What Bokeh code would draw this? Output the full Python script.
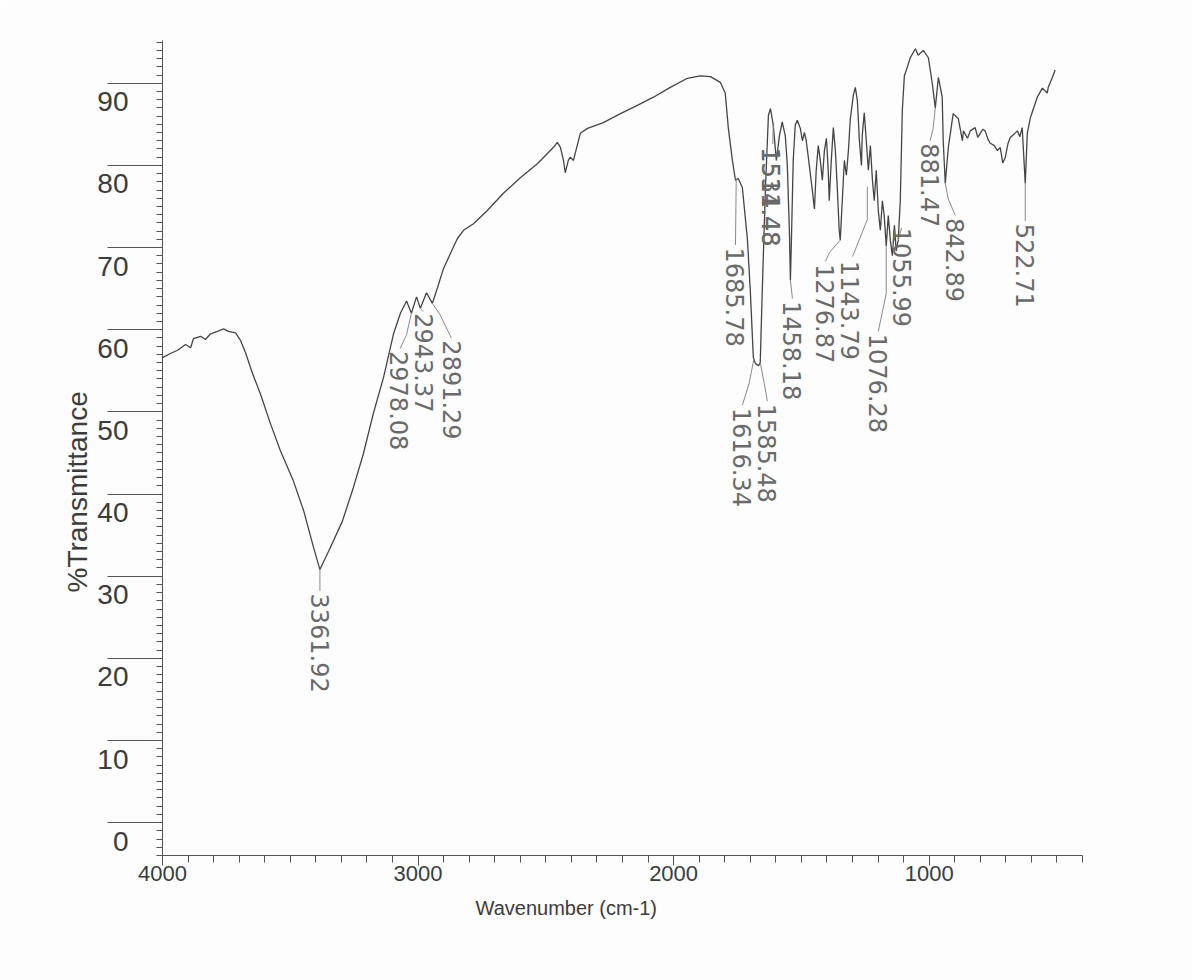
from bokeh.plotting import figure
from bokeh.models import ColumnDataSource, FixedTicker, Title
from bokeh.core.properties import value
from bokeh.embed import file_html
from bokeh.resources import INLINE
import math

# ---- spectrum (wavenumber cm-1, %T) ----
wavenumber = [
    4000, 3969, 3941, 3910, 3890, 3879, 3851, 3832, 3812, 3785, 3761, 3742, 3714, 3695,
    3675, 3648, 3617, 3578, 3539, 3488, 3448, 3409, 3384, 3343, 3296, 3253, 3214, 3175,
    3135, 3096, 3069, 3045, 3026, 3006, 2991, 2967, 2944, 2924, 2901, 2873, 2846, 2822,
    2783, 2729, 2666, 2600, 2533, 2470, 2455, 2443, 2431, 2424, 2412, 2404, 2392, 2365,
    2337, 2275, 2208, 2142, 2079, 2013, 1946, 1896, 1856, 1817, 1798, 1786, 1770, 1758,
    1747, 1731, 1711, 1700, 1688, 1680, 1668, 1661, 1653, 1641, 1629, 1621,
    1610, 1598, 1586, 1575, 1563, 1555, 1547, 1543, 1539, 1532, 1524, 1516, 1504, 1496,
    1488, 1481, 1469, 1457, 1449, 1442, 1434, 1426, 1418, 1410, 1402, 1395, 1391, 1383,
    1375, 1367, 1359, 1352, 1348, 1340, 1332, 1324, 1316, 1309, 1297, 1289, 1281, 1273,
    1265, 1262, 1254, 1246, 1238, 1230, 1222, 1215, 1207, 1199, 1191, 1183, 1176, 1168,
    1160, 1152, 1144, 1136, 1129, 1121, 1113, 1105, 1097, 1086, 1074, 1054, 1043, 1023,
    1003, 988, 976, 964, 949, 945, 937, 925, 906, 886, 870, 866, 850, 839, 820, 810,
    800, 790, 781, 770, 761, 745, 733, 722, 712, 702, 692, 683, 668, 655, 645, 636,
    624, 616, 604, 577, 557, 538, 534, 518, 507,
]
transmittance = [
    56.6, 57.1, 57.5, 58.2, 57.8, 58.9, 59.2, 58.8, 59.5, 59.8, 60.1, 59.8, 59.6, 58.7,
    57.2, 54.7, 52.2, 48.6, 45.3, 41.6, 38.0, 33.5, 30.8, 33.5, 36.7, 40.8, 44.9, 49.8,
    54.2, 59.5, 62.0, 63.5, 62.0, 64.0, 62.6, 64.5, 63.2, 65.1, 67.4, 69.3, 71.1, 72.1,
    72.9, 74.5, 76.6, 78.5, 80.2, 82.2, 82.8, 82.2, 80.6, 79.1, 80.6, 81.0, 80.6, 83.9,
    84.5, 85.2, 86.3, 87.3, 88.3, 89.5, 90.6, 90.9, 90.8, 90.1, 88.8, 84.6, 80.6, 78.2,
    78.4, 77.3, 70.9, 64.8, 56.6, 55.9, 55.6, 56.0, 64.8, 76.9, 86.1, 86.9,
    84.9, 80.6, 83.6, 85.3, 83.6, 80.0, 72.1, 66.0, 70.9, 80.6, 84.9, 85.5, 84.5, 83.0,
    84.0, 83.0, 80.0, 76.9, 74.7, 79.4, 82.4, 80.6, 78.2, 81.8, 83.3, 79.4, 75.7, 80.6,
    84.6, 81.8, 76.9, 72.1, 70.9, 75.7, 80.6, 78.8, 81.8, 85.5, 88.5, 89.5, 87.9, 83.0,
    80.0, 83.6, 86.4, 83.0, 79.4, 82.4, 78.2, 75.7, 79.4, 74.5, 72.1, 75.7, 73.9, 70.2,
    73.9, 70.9, 69.0, 72.7, 69.6, 70.9, 75.7, 86.7, 90.9, 91.9, 93.1, 94.2, 93.4, 94.0,
    93.1, 90.0, 87.0, 90.7, 88.3, 83.0, 77.8, 82.2, 86.3, 85.7, 83.0, 84.2, 83.3, 84.2, 84.6, 83.4,
    83.9, 84.4, 84.2, 83.2, 82.7, 82.4, 81.8, 82.2, 80.3, 81.0, 82.6, 83.4, 83.8, 84.2, 83.5, 84.6,
    77.8, 83.9, 85.8, 88.3, 89.4, 88.8, 89.5, 90.7, 91.6,
]

# ---- peak annotations ----
peak_text = ["3361.92", "2978.08", "2943.37", "2891.29", "1685.78", "1616.34", "1585.48",
             "1531.48", "1514.48", "1458.18", "1276.87", "1143.79", "1076.28", "1055.99",
             "881.47", "842.89", "522.71"]
peak_text_wn = [3382, 3073, 2975, 2866, 1758, 1731, 1633, 1618, 1618, 1535, 1406, 1309,
                1199, 1105, 996, 898, 624]
peak_text_t = [27.9, 57.4, 62.0, 58.7, 70.0, 50.5, 51.0, 82.2, 82.2, 63.5, 68.0, 68.4,
               59.5, 72.4, 82.7, 73.6, 72.9]
leader_wn = [[3384, 3384], [3026, 3045, 3070], [2991, 2980], [2944, 2915, 2870],
             [1755, 1758], [1686, 1705, 1731], [1661, 1645, 1633], [1610, 1612],
             [1543, 1535], [1348, 1390, 1406], [1242, 1242, 1300], [1168, 1168, 1199],
             [1121, 1108], [976, 985, 996], [937, 925, 898], [624, 624]]
leader_t = [[30.8, 28.2], [62.0, 59.4, 57.7], [62.6, 62.2], [63.2, 61.9, 59.0],
            [78.3, 70.3], [56.4, 53.4, 50.8], [56.0, 53.4, 51.3], [84.9, 82.6],
            [66.0, 63.8], [70.9, 69.4, 68.3], [77.4, 73.4, 68.9], [70.2, 64.4, 59.8],
            [70.9, 72.4], [87.0, 84.4, 83.0], [77.8, 75.9, 73.9], [77.8, 73.2]]

x_major = [4000, 3000, 2000, 1000]
x_minor = list(range(400, 4001, 100))
y_major = list(range(0, 91, 10))
y_minor = list(range(-4, 96))

ink = "#3c3c3c"

p = figure(width=1192, height=980, x_range=(4000, 400), y_range=(-4.0, 95.2),
           output_backend="svg", toolbar_location=None,
           min_border_left=162, min_border_right=110, min_border_top=40, min_border_bottom=125)
p.background_fill_color = "#fdfdfd"
p.border_fill_color = "#fdfdfd"
p.outline_line_color = None
p.grid.visible = False

p.line(wavenumber, transmittance, line_color="#454545", line_width=1.3)

p.multi_line(leader_wn, leader_t, line_color="#8a8a8a", line_width=1)
lab = ColumnDataSource(dict(x=peak_text_wn, y=peak_text_t, t=peak_text))
p.text(x="x", y="y", text="t", source=lab, angle=-math.pi / 2,
       text_align="left", text_baseline="middle", text_color="#6a6a6a",
       text_font=value("DejaVu Sans"), text_font_size="24px")

xa = p.xaxis[0]
xa.ticker = FixedTicker(ticks=x_major, minor_ticks=x_minor)
ya = p.yaxis[0]
ya.ticker = FixedTicker(ticks=y_major, minor_ticks=y_minor)
# labels sit just under their (long) tick strokes, as on the printout
ya.major_label_overrides = {v: "\n" + str(v) for v in y_major}

for ax in (xa, ya):
    ax.axis_line_color = "#555555"
    ax.major_tick_line_color = "#555555"
    ax.minor_tick_line_color = "#555555"
    ax.major_tick_in = 0
    ax.minor_tick_in = 0
    ax.major_label_text_color = ink
    ax.major_label_text_font = "Liberation Sans"

xa.major_tick_out = 10
xa.minor_tick_out = 7
xa.major_label_standoff = 0
xa.major_label_text_font_size = "22px"

ya.major_tick_out = 55
ya.minor_tick_out = 6
ya.major_label_standoff = -21
ya.major_label_text_font_size = "28px"

p.add_layout(Title(text="Wavenumber (cm-1)", align="left", offset=313, standoff=22,
                   text_font_size="20px", text_font_style="normal", text_color=ink,
                   text_font="Liberation Sans"), "below")
p.add_layout(Title(text="%Transmittance", align="left", offset=263, standoff=3,
                   text_font_size="28px", text_font_style="normal", text_color=ink,
                   text_font="Liberation Sans"), "left")

open("out.html", "w").write(file_html(p, INLINE))
